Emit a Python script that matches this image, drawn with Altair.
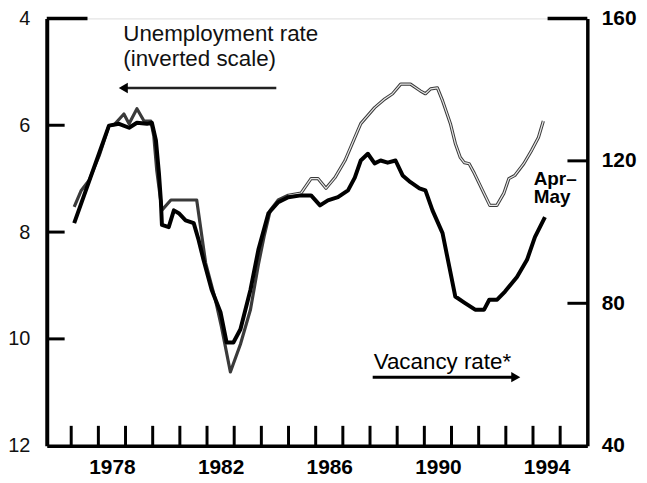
import altair as alt
import pandas as pd

# Unemployment rate (left axis, inverted scale)
unemp_years = [1977.11, 1977.37, 1977.66, 1978.03, 1978.39, 1978.58, 1978.94, 1979.13, 1979.42, 1979.68,
               1979.93, 1980.04, 1980.15, 1980.34, 1980.67, 1981.62, 1981.95, 1982.31, 1982.53, 1982.86,
               1983.23, 1983.60, 1983.89, 1984.11, 1984.33, 1984.62, 1984.99, 1985.46, 1985.83, 1986.09,
               1986.38, 1986.71, 1987.08, 1987.55, 1987.66, 1988.17, 1988.54, 1988.83, 1989.13, 1989.49,
               1989.86, 1990.04, 1990.23, 1990.48, 1990.67, 1990.96, 1991.14, 1991.32, 1991.47, 1991.65,
               1991.84, 1992.19, 1992.41, 1992.67, 1992.93, 1993.11, 1993.33, 1993.66, 1993.95, 1994.20,
               1994.38]
unemp_rate = [7.53, 7.22, 7.03, 6.57, 6.01, 5.99, 5.79, 5.97, 5.69, 5.92,
              5.92, 6.20, 6.85, 7.59, 7.40, 7.40, 8.58, 9.27, 9.77, 10.62,
              10.10, 9.45, 8.61, 8.06, 7.59, 7.40, 7.31, 7.27, 7.00, 7.00,
              7.18, 6.98, 6.66, 6.10, 5.97, 5.67, 5.51, 5.41, 5.23, 5.23,
              5.36, 5.41, 5.32, 5.30, 5.54, 5.97, 6.34, 6.60, 6.70, 6.72,
              6.90, 7.27, 7.50, 7.50, 7.27, 7.00, 6.94, 6.72, 6.47, 6.23,
              5.92]

# Vacancy rate (right axis)
vac_years = [1977.11, 1978.39, 1978.76, 1979.13, 1979.42, 1979.79, 1979.97, 1980.12, 1980.23, 1980.30,
             1980.34, 1980.59, 1980.78, 1980.96, 1981.21, 1981.51, 1981.69, 1981.87, 1982.17, 1982.50,
             1982.72, 1982.97, 1983.23, 1983.60, 1983.89, 1984.26, 1984.62, 1984.99, 1985.46, 1985.83,
             1986.16, 1986.45, 1986.82, 1987.19, 1987.44, 1987.66, 1987.92, 1988.17, 1988.39, 1988.65,
             1988.94, 1989.20, 1989.49, 1989.82, 1990.04, 1990.30, 1990.67, 1990.92, 1991.14, 1991.47,
             1991.87, 1992.20, 1992.39, 1992.68, 1992.97, 1993.41, 1993.78, 1994.07, 1994.44]
vac_rate = [102.5, 129.9, 130.4, 129.3, 130.7, 130.4, 130.7, 125.7, 116.5, 108.9,
            102.0, 101.4, 106.1, 105.3, 103.3, 102.5, 97.8, 92.2, 83.8, 77.4,
            69.0, 69.0, 72.7, 83.8, 95.0, 105.3, 108.4, 109.8, 110.3, 110.3,
            107.5, 108.9, 109.8, 111.7, 115.3, 120.1, 122.0, 119.3, 120.1, 119.5,
            120.1, 115.9, 114.0, 112.3, 111.7, 106.1, 99.7, 90.2, 81.9, 80.2,
            78.2, 78.2, 81.0, 81.0, 83.3, 87.4, 92.2, 98.6, 104.2]

left_ticks = [4, 6, 8, 10, 12]
right_ticks = [40, 80, 120, 160]
label_years = [1978, 1982, 1986, 1990, 1994]
tick_years = list(range(1977, 1996))

W, H = 544, 430
FONT = "Liberation Sans"

df_u = pd.DataFrame({"year": unemp_years, "u": unemp_rate})
df_v = pd.DataFrame({"year": vac_years, "v": vac_rate})
df_lt = pd.DataFrame({"u": [t for t in left_ticks if t not in (left_ticks[0], left_ticks[-1])]})
df_lt_top = pd.DataFrame({"u": [left_ticks[0]]})
df_rt = pd.DataFrame({"v": [t for t in right_ticks if t not in (right_ticks[0], right_ticks[-1])]})
df_rt_top = pd.DataFrame({"v": [right_ticks[-1]]})
df_xt = pd.DataFrame({"year": tick_years})

xs = alt.Scale(domain=[1976.1, 1996], nice=False, zero=False)
ys_u = alt.Scale(domain=[4, 12], reverse=True, nice=False, zero=False)
ys_v = alt.Scale(domain=[40, 160], nice=False, zero=False)

x_axis = alt.Axis(values=[y + 0.5 for y in label_years], labelExpr="floor(datum.value)",
                  ticks=False, tickSize=0, grid=False, domainColor="black", domainWidth=3.5,
                  labelFont=FONT, labelFontSize=21, labelFontWeight="bold", labelColor="black",
                  labelPadding=11, title=None, labelFlush=False)
y_axis_l = alt.Axis(values=left_ticks, ticks=False, tickSize=0, grid=False, domainColor="black",
                    domainWidth=4, labelFont=FONT, labelFontSize=20, labelColor="#111",
                    labelPadding=17, title=None)
y_axis_r = alt.Axis(values=right_ticks, orient="right", ticks=False, tickSize=0, grid=False,
                    domainColor="black", domainWidth=3.5, labelFont=FONT, labelFontSize=21,
                    labelFontWeight="bold", labelColor="black", labelPadding=14, title=None)

# --- left-scale layer ---
u_outer = alt.Chart(df_u).mark_line(color="#3a3a3a", strokeWidth=3.2, strokeJoin="round").encode(
    x=alt.X("year:Q", scale=xs, axis=x_axis),
    y=alt.Y("u:Q", scale=ys_u, axis=y_axis_l),
)
u_inner = alt.Chart(df_u).transform_filter("datum.year >= 1984.9").mark_line(
    color="#e8e8e8", strokeWidth=1.2, strokeJoin="round").encode(
    x=alt.X("year:Q", scale=xs, title=None),
    y=alt.Y("u:Q", scale=ys_u, title=None),
)
lt_rules = alt.Chart(df_lt).mark_rule(color="black", strokeWidth=3).encode(
    x=alt.value(0), x2=alt.value(18), y=alt.Y("u:Q", scale=ys_u, title=None))
lt_top = alt.Chart(df_lt_top).mark_rule(color="black", strokeWidth=3.5).encode(
    x=alt.value(0), x2=alt.value(41), y=alt.Y("u:Q", scale=ys_u, title=None))
xt_rules = alt.Chart(df_xt).mark_rule(color="black", strokeWidth=3).encode(
    x=alt.X("year:Q", scale=xs, title=None), y=alt.value(H), y2=alt.value(H - 20))

ann = pd.DataFrame({"a": [0]})
u_text = alt.Chart(ann).mark_text(align="left", baseline="alphabetic", font=FONT, fontSize=22.5,
                                  lineHeight=25, color="#111").encode(
    x=alt.value(77), y=alt.value(23),
    text=alt.value(["Unemployment rate", "(inverted scale)"]))
u_arrow = alt.Chart(ann).mark_rule(color="#222", strokeWidth=2.5).encode(
    x=alt.value(76), x2=alt.value(231), y=alt.value(70))
u_head = alt.Chart(ann).mark_point(shape="triangle-left", filled=True, color="black", size=110,
                                   opacity=1).encode(x=alt.value(77), y=alt.value(70))

left_layer = alt.layer(u_outer, u_inner, lt_rules, lt_top, xt_rules, u_text, u_arrow, u_head)

# --- right-scale layer ---
v_line = alt.Chart(df_v).mark_line(color="black", strokeWidth=4, strokeJoin="round").encode(
    x=alt.X("year:Q", scale=xs, title=None),
    y=alt.Y("v:Q", scale=ys_v, axis=y_axis_r),
)
rt_rules = alt.Chart(df_rt).mark_rule(color="black", strokeWidth=3).encode(
    x=alt.value(W - 20), x2=alt.value(W), y=alt.Y("v:Q", scale=ys_v, title=None))
rt_top = alt.Chart(df_rt_top).mark_rule(color="black", strokeWidth=3.5).encode(
    x=alt.value(W - 40), x2=alt.value(W), y=alt.Y("v:Q", scale=ys_v, title=None))
v_text = alt.Chart(ann).mark_text(align="left", baseline="alphabetic", font=FONT, fontSize=22.5,
                                  color="black").encode(
    x=alt.value(329), y=alt.value(353), text=alt.value("Vacancy rate*"))
v_arrow = alt.Chart(ann).mark_rule(color="black", strokeWidth=3).encode(
    x=alt.value(328), x2=alt.value(472), y=alt.value(361))
v_head = alt.Chart(ann).mark_point(shape="triangle-right", filled=True, color="black", size=110,
                                   opacity=1).encode(x=alt.value(472), y=alt.value(361))
am_text = alt.Chart(ann).mark_text(align="left", baseline="alphabetic", font=FONT, fontSize=19,
                                   fontWeight="bold", lineHeight=18, color="black").encode(
    x=alt.value(490), y=alt.value(168), text=alt.value(["Apr\u2013", "May"]))

right_layer = alt.layer(v_line, rt_rules, rt_top, v_text, v_arrow, v_head, am_text)

chart = alt.layer(left_layer, right_layer).resolve_scale(y="independent").properties(
    width=W, height=H,
    autosize=alt.AutoSizeParams(type="none"),
    padding={"left": 39, "top": 9, "right": 52, "bottom": 32},
).configure_view(stroke=None).configure(background="white")

chart.save("out.html", embed_options={"renderer": "svg", "actions": False})
